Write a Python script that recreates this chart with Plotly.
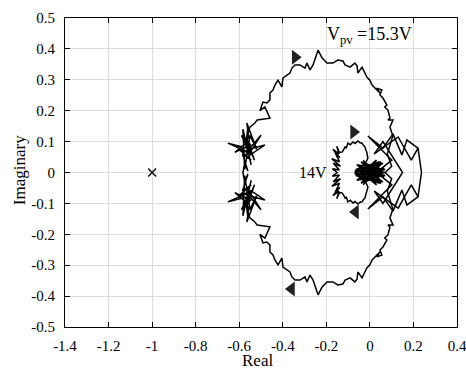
import plotly.graph_objects as go

# ---------------- data (upper halves) ----------------
# Outer Nyquist locus (Vpv = 15.3 V): from the real axis in the left cluster, over the top, to the right
outer_x = [-0.583, -0.575, -0.560, -0.585, -0.545, -0.600, -0.540, -0.652, -0.570, -0.560,
           -0.565, -0.482, -0.555, -0.500, -0.550, -0.590, -0.548, -0.620, -0.560, -0.530,
           -0.575, -0.545, -0.583, -0.575, -0.550, -0.520, -0.565, -0.555, -0.560, -0.551,
           -0.528, -0.518, -0.459, -0.482, -0.505, -0.491, -0.473, -0.459, -0.459, -0.445,
           -0.436, -0.422, -0.404, -0.399, -0.381, -0.367, -0.358, -0.344, -0.321, -0.298,
           -0.289, -0.275, -0.261, -0.238, -0.220, -0.197, -0.170, -0.147, -0.124, -0.114,
           -0.091, -0.069, -0.059, -0.055, -0.036, -0.023, -0.014, 0.000, 0.010, 0.046,
           0.032, 0.055, 0.046, 0.060, 0.078, 0.068, 0.083, 0.092, 0.083, 0.106,
           0.092, 0.101, 0.106, 0.080, 0.100, 0.070]
outer_y = [0.000, 0.030, 0.005, 0.060, 0.040, 0.075, 0.060, 0.095, 0.080, 0.150,
           0.050, 0.089, 0.075, 0.121, 0.065, 0.120, 0.090, 0.065, 0.100, 0.040,
           0.115, 0.025, 0.140, 0.010, 0.120, 0.075, 0.160, 0.110, 0.128, 0.147,
           0.160, 0.170, 0.176, 0.212, 0.200, 0.228, 0.225, 0.235, 0.257, 0.267,
           0.283, 0.299, 0.277, 0.306, 0.316, 0.322, 0.338, 0.348, 0.348, 0.338,
           0.354, 0.332, 0.348, 0.396, 0.371, 0.354, 0.354, 0.364, 0.361, 0.348,
           0.341, 0.354, 0.345, 0.322, 0.341, 0.322, 0.309, 0.299, 0.283, 0.257,
           0.273, 0.267, 0.251, 0.241, 0.218, 0.212, 0.202, 0.176, 0.170, 0.170,
           0.147, 0.128, 0.120, 0.060, 0.020, 0.000]

# D-shaped polygon structure on the right (upper halves)
polyA_x = [0.030, 0.101, -0.009, 0.060, 0.106, 0.147, 0.170, 0.221, 0.237]
polyA_y = [0.000, 0.040, 0.118, 0.079, 0.125, 0.057, 0.105, 0.079, 0.000]
polyB_x = [0.150, 0.060, 0.020, 0.130, 0.190, 0.221]
polyB_y = [0.000, 0.100, 0.060, 0.115, 0.040, 0.079]

# Inner locus (Vpv = 14 V), upper half: spiky left end, loop top, into the core
inner_x = [-0.150, -0.172, -0.140, -0.168, -0.135, -0.175, -0.140, -0.160, -0.138, -0.170,
           -0.142, -0.152, -0.140, -0.128, -0.122, -0.114, -0.108, -0.101, -0.090, -0.078,
           -0.068, -0.055, -0.045, -0.036, -0.030, -0.023, -0.018, -0.014, -0.012, -0.009,
           -0.020, 0.010, -0.030, 0.030, -0.040, 0.000]
inner_y = [0.000, 0.012, 0.008, 0.030, 0.020, 0.045, 0.035, 0.065, 0.048, 0.075,
           0.060, 0.085, 0.065, 0.066, 0.072, 0.083, 0.080, 0.095, 0.090, 0.099,
           0.094, 0.102, 0.096, 0.095, 0.088, 0.083, 0.072, 0.066, 0.055, 0.047,
           0.030, 0.020, 0.015, 0.010, 0.005, 0.000]

# Dense core near the origin
core_x = [-0.070, 0.060, -0.050, 0.070, -0.060, 0.040, -0.040, 0.065, -0.065, 0.050,
          -0.030, 0.030, -0.055, 0.055, -0.020, 0.020, -0.045, 0.070, -0.070, 0.000]
core_y = [0.000, 0.030, -0.020, 0.010, 0.025, -0.035, 0.035, -0.015, 0.010, 0.035,
          -0.040, 0.040, -0.010, -0.030, 0.030, -0.025, 0.015, 0.000, -0.005, 0.000]

# Direction arrows
arrow_x = [-0.343, -0.360, -0.075, -0.066]
arrow_y = [0.373, -0.377, 0.131, -0.128]
arrow_sym = ["triangle-right", "triangle-left", "triangle-right", "triangle-left"]

crit_x = [-1.0]
crit_y = [0.0]

xtick_vals = [-1.4, -1.2, -1.0, -0.8, -0.6, -0.4, -0.2, 0.0, 0.2, 0.4]
xtick_text = ["-1.4", "-1.2", "-1", "-0.8", "-0.6", "-0.4", "-0.2", "0", "0.2", "0.4"]
ytick_vals = [-0.5, -0.4, -0.3, -0.2, -0.1, 0.0, 0.1, 0.2, 0.3, 0.4, 0.5]
ytick_text = ["-0.5", "-0.4", "-0.3", "-0.2", "-0.1", "0", "0.1", "0.2", "0.3", "0.4", "0.5"]


def closed(xs, ys):
    """full locus = mirrored lower half (negative frequencies) + upper half"""
    fx = list(reversed(xs)) + list(xs)
    fy = [-v for v in reversed(ys)] + list(ys)
    return fx, fy


FONT = "Liberation Serif, Times New Roman, serif"
fig = go.Figure()
line = dict(color="black", width=1.5)
for xs, ys in [(outer_x, outer_y), (polyA_x, polyA_y), (polyB_x, polyB_y),
               (inner_x, inner_y), (core_x, core_y)]:
    fx, fy = closed(xs, ys)
    fig.add_trace(go.Scatter(x=fx, y=fy, mode="lines", line=line, hoverinfo="skip"))

fig.add_trace(go.Scatter(x=arrow_x, y=arrow_y, mode="markers", hoverinfo="skip",
                         marker=dict(symbol=arrow_sym, size=13, color="#222222",
                                     line=dict(width=0))))
fig.add_trace(go.Scatter(x=crit_x, y=crit_y, mode="markers", hoverinfo="skip",
                         marker=dict(symbol="x-thin", size=8,
                                     line=dict(width=1.3, color="black"))))

axis_common = dict(showgrid=True, gridcolor="#dedede", gridwidth=1, zeroline=False,
                   showline=True, linecolor="black", linewidth=1, mirror="ticks",
                   ticks="inside", ticklen=5, tickcolor="black", ticklabeloverflow="allow",
                   automargin=False,
                   tickfont=dict(family=FONT, size=15, color="black"))
fig.update_xaxes(range=[-1.4, 0.4], tickvals=xtick_vals, ticktext=xtick_text,
                 ticklabelstandoff=5, **axis_common)
fig.update_yaxes(range=[-0.5, 0.5], tickvals=ytick_vals, ticktext=ytick_text,
                 ticklabelstandoff=6, **axis_common)

fig.add_annotation(x=-0.206, y=0.445, xref="x", yref="y", xanchor="left", yanchor="middle",
                   text="V<sub>pv</sub> =15.3V", showarrow=False,
                   font=dict(family=FONT, size=18, color="black"))
fig.add_annotation(x=-0.261, y=0.0, xref="x", yref="y", xanchor="center", yanchor="middle",
                   text="14V", showarrow=False, font=dict(family=FONT, size=16, color="black"))
fig.add_annotation(x=0.492, y=-0.110, xref="paper", yref="paper", xanchor="center",
                   yanchor="middle", text="Real", showarrow=False,
                   font=dict(family=FONT, size=17, color="black"))
fig.add_annotation(x=-0.117, y=0.508, xref="paper", yref="paper", xanchor="center",
                   yanchor="middle", text="Imaginary", showarrow=False, textangle=-90,
                   font=dict(family=FONT, size=17, color="black"))

fig.update_layout(width=466, height=369, margin=dict(l=65, r=9, t=18, b=42, autoexpand=False),
                  plot_bgcolor="white", paper_bgcolor="white", showlegend=False,
                  font=dict(family=FONT, color="black"))
# remove the browser's default 8 px body margin so the figure fills the window exactly
fig.write_html("out.html", config={"displayModeBar": False},
               post_script="document.body.style.margin='0';document.body.style.overflow='hidden';")
